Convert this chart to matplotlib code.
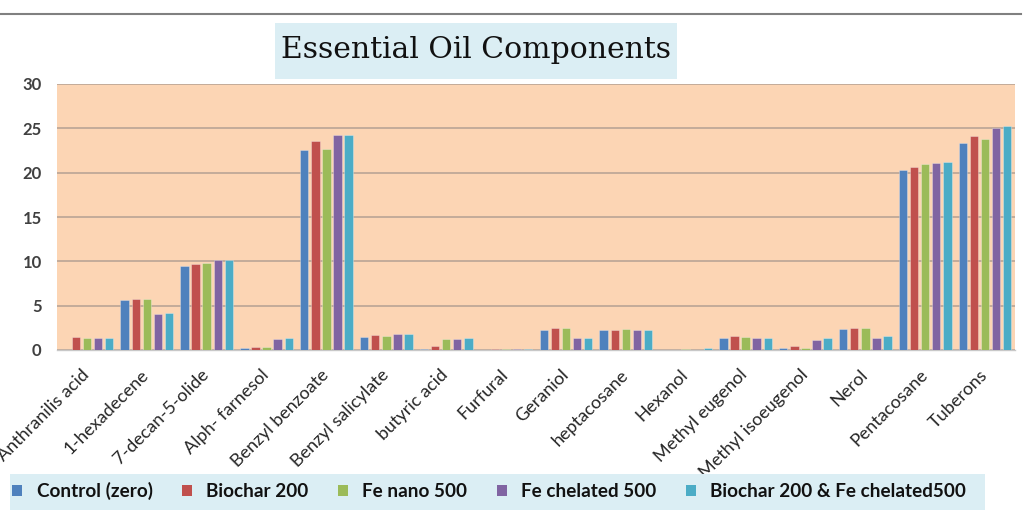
import matplotlib
matplotlib.use("Agg")
import matplotlib.pyplot as plt
from matplotlib.patches import Rectangle
from matplotlib.lines import Line2D
from matplotlib.transforms import ScaledTranslation
import numpy as np

categories = ["Anthranilis acid", "1-hexadecene", "7-decan-5-olide", "Alph- farnesol",
              "Benzyl benzoate", "Benzyl salicylate", "butyric acid", "Furfural",
              "Geraniol", "heptacosane", "Hexanol", "Methyl eugenol",
              "Methyl isoeugenol", "Nerol", "Pentacosane", "Tuberons"]

series_names = ["Control (zero)", "Biochar 200", "Fe nano 500", "Fe chelated 500",
                "Biochar 200 & Fe chelated500"]

control = [0.0, 5.6, 9.5, 0.2, 22.6, 1.5, 0.15, 0.05, 2.3, 2.2, 0.0, 1.4, 0.2, 2.35, 20.3, 23.4]
biochar = [1.5, 5.7, 9.7, 0.3, 23.6, 1.7, 0.4, 0.1, 2.5, 2.3, 0.0, 1.6, 0.4, 2.45, 20.6, 24.1]
fe_nano = [1.3, 5.7, 9.8, 0.3, 22.7, 1.6, 1.2, 0.1, 2.5, 2.4, 0.1, 1.5, 0.25, 2.45, 21.0, 23.8]
fe_chel = [1.3, 4.1, 10.2, 1.2, 24.2, 1.8, 1.2, 0.1, 1.3, 2.2, 0.0, 1.4, 1.1, 1.4, 21.1, 25.0]
bio_fe = [1.3, 4.2, 10.1, 1.4, 24.3, 1.8, 1.4, 0.1, 1.3, 2.2, 0.25, 1.3, 1.3, 1.6, 21.2, 25.25]

series = [control, biochar, fe_nano, fe_chel, bio_fe]
colors = ["#4F81BD", "#C0504D", "#9BBB59", "#8064A2", "#4BACC6"]

yticks = [0, 5, 10, 15, 20, 25, 30]

W, H = 1023, 512
fig = plt.figure(figsize=(W / 100, H / 100), dpi=100)
fig.patch.set_facecolor("white")

ax = fig.add_axes([57 / W, 1 - 350 / H, (1015 - 57) / W, (350 - 84) / H])
ax.set_facecolor("#FCD5B4")

x = np.arange(len(categories))
pitch = 0.185
bw = 0.14
for i, (vals, c, name) in enumerate(zip(series, colors, series_names)):
    ax.bar(x + (i - 2) * pitch, vals, width=bw, color=c, edgecolor=(1, 1, 1, 0.35),
           linewidth=0.6, label=name, zorder=3)

ax.set_xlim(-0.5, len(categories) - 0.5)
ax.set_ylim(0, 30)
ax.set_yticks(yticks)
ax.yaxis.grid(True, color="#BFA898", linewidth=1.3, zorder=1)
ax.set_axisbelow(True)
for s in ["left", "right", "top"]:
    ax.spines[s].set_visible(False)
ax.spines["bottom"].set_color("#C8C8C8")
ax.spines["bottom"].set_linewidth(1.0)
ax.tick_params(axis="y", length=0, pad=11, labelsize=12, labelcolor="#404040")
ax.tick_params(axis="x", length=0, pad=12)
for lab in ax.get_yticklabels():
    lab.set_fontfamily("Lato")
    lab.set_fontweight("bold")
ax.set_xticks(x)
ax.set_xticklabels(categories, rotation=45, ha="right", va="top", rotation_mode="anchor",
                   fontsize=13, color="#262626", family="Lato")
shift = ScaledTranslation(-6 / 100, 0, fig.dpi_scale_trans)
for lab in ax.get_xticklabels():
    lab.set_transform(lab.get_transform() + shift)

# top rule
fig.add_artist(Line2D([0, 1021 / W], [1 - 14 / H, 1 - 14 / H], color="#808080", linewidth=1.5))

# title
fig.add_artist(Rectangle((275 / W, 1 - 79 / H), (677 - 275) / W, (79 - 23) / H,
                         facecolor="#DBEEF4", edgecolor="none"))
fig.text(476 / W, 1 - 50 / H, "Essential Oil Components", ha="center", va="center",
         fontsize=21.5, family="DejaVu Serif", color="#111111")

# legend background
fig.add_artist(Rectangle((10 / W, 1 - 510 / H), (985 - 10) / W, (510 - 474) / H,
                         facecolor="#DBEEF4", edgecolor="none"))
handles = [Rectangle((0, 0), 1, 1, facecolor=c) for c in colors]
leg = fig.legend(handles, series_names, loc="center left",
                 bbox_to_anchor=(12 / W, 1 - 491 / H), ncol=5, frameon=False,
                 borderaxespad=0, borderpad=0,
                 handlelength=0.55, handleheight=0.55, handletextpad=0.75, columnspacing=1.55,
                 prop={"family": "Lato", "weight": "bold", "size": 13.6})
for t in leg.get_texts():
    t.set_color("#111111")

fig.savefig("out.png", dpi=100)
